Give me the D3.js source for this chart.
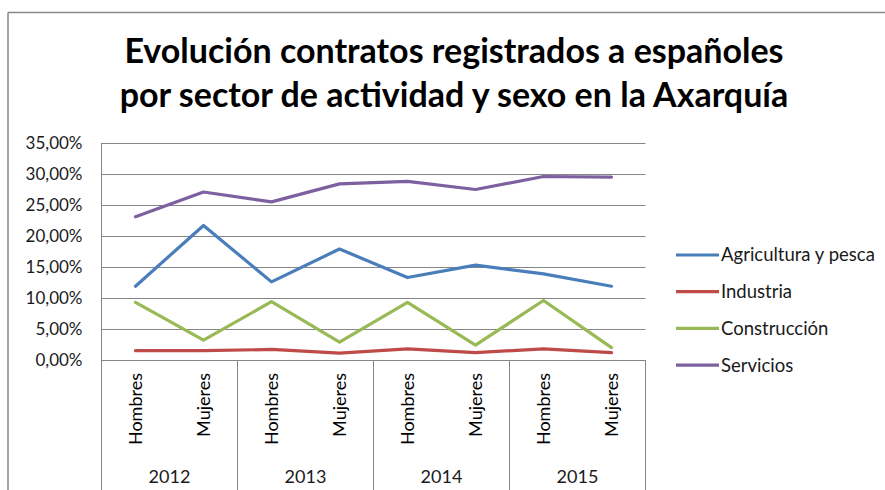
<!DOCTYPE html>
<html>
<head>
<meta charset="utf-8">
<script src="https://cdn.jsdelivr.net/npm/d3@7"></script>
<style>
  body { margin: 0; background: #fff; }
  svg { display: block; font-family: Lato, "Open Sans", sans-serif; }
</style>
</head>
<body>
<div class="chart"></div>
<script>
// data
let years = ["2012", "2013", "2014", "2015"];
let sexes = ["Hombres", "Mujeres"];
let seriesNames = ["Agricultura y pesca", "Industria", "Construcción", "Servicios"];
let agricultura = [0.119, 0.217, 0.126, 0.179, 0.133, 0.153, 0.139, 0.119];
let industria = [0.015, 0.015, 0.017, 0.011, 0.018, 0.012, 0.018, 0.012];
let construccion = [0.093, 0.032, 0.094, 0.029, 0.093, 0.024, 0.096, 0.020];
let servicios = [0.231, 0.271, 0.255, 0.284, 0.288, 0.275, 0.296, 0.295];
let yTicks = [0, 0.05, 0.10, 0.15, 0.20, 0.25, 0.30, 0.35];
let colors = ["#4A7EBB", "#BE4B48", "#98B954", "#7D60A0"];

let series = [agricultura, industria, construccion, servicios].map(function (v, i) {
    return { name: seriesNames[i], values: v };
});

// one category per (year, sex)
let categories = [];
years.forEach(function (y) {
    sexes.forEach(function (s) {
        categories.push({ key: y + "-" + s, year: y, sex: s });
    });
});

let W = 885, H = 490;
let plot = { left: 101.5, right: 645.5, top: 143, bottom: 360 };

let svg = d3.select(".chart")
    .append("svg")
    .attr("width", W)
    .attr("height", H)
    .style("background-color", "white");

// outer chart frame (only top & left visible in the crop)
svg.append("line")
    .attr("x1", 8).attr("x2", W).attr("y1", 12.5).attr("y2", 12.5)
    .style("stroke", "#868686").style("stroke-width", 1.5);
svg.append("line")
    .attr("x1", 8).attr("x2", 8).attr("y1", 12.5).attr("y2", H)
    .style("stroke", "#868686").style("stroke-width", 1.5);

// title
let title = svg.append("text")
    .attr("text-anchor", "middle")
    .style("font-weight", "bold")
    .style("font-size", "34px")
    .style("fill", "#000");
title.append("tspan").attr("x", 454).attr("y", 63).text("Evolución contratos registrados a españoles");
title.append("tspan").attr("x", 454).attr("y", 107).text("por sector de actividad y sexo en la Axarquía");

let x = d3.scaleBand()
    .domain(categories.map(function (d) { return d.key; }))
    .range([plot.left, plot.right]);

let yearScale = d3.scaleBand()
    .domain(years)
    .range([plot.left, plot.right]);

let y = d3.scaleLinear()
    .domain([0, 0.35])
    .range([plot.bottom, plot.top]);

// gridlines + y labels
let yAxis = svg.append("g")
    .attr("transform", "translate(" + plot.left + ",0)")
    .call(d3.axisLeft(y)
        .tickValues(yTicks)
        .tickSize(-(plot.right - plot.left))
        .tickPadding(19)
        .tickFormat(function (d) { return d3.format(".2f")(d * 100).replace(".", ",") + "%"; }));
yAxis.select(".domain").remove();
yAxis.selectAll(".tick line").style("stroke", "#868686").style("stroke-width", 1);
yAxis.selectAll(".tick text")
    .style("font-size", "17px")
    .style("font-family", "Lato")
    .style("fill", "#1a1a1a");

// left axis line runs down through the category area
svg.append("line")
    .attr("x1", plot.left).attr("x2", plot.left)
    .attr("y1", plot.top).attr("y2", H)
    .style("stroke", "#868686").style("stroke-width", 1);

// year separators below the plot
svg.append("g")
    .selectAll("line")
    .data(years)
    .enter()
    .append("line")
    .attr("x1", function (d) { return yearScale(d) + yearScale.bandwidth(); })
    .attr("x2", function (d) { return yearScale(d) + yearScale.bandwidth(); })
    .attr("y1", plot.bottom)
    .attr("y2", H)
    .style("stroke", "#868686").style("stroke-width", 1);

// sex labels (rotated)
svg.append("g")
    .selectAll("text")
    .data(categories)
    .enter()
    .append("text")
    .attr("transform", function (d) {
        return "translate(" + (x(d.key) + x.bandwidth() / 2 + 6) + "," + 373 + ") rotate(-90)";
    })
    .attr("text-anchor", "end")
    .style("font-size", "18px")
    .style("fill", "#000")
    .text(function (d) { return d.sex; });

// year labels
svg.append("g")
    .selectAll("text")
    .data(years)
    .enter()
    .append("text")
    .attr("x", function (d) { return yearScale(d) + yearScale.bandwidth() / 2; })
    .attr("y", 483)
    .attr("text-anchor", "middle")
    .style("font-size", "18px")
    .style("fill", "#1a1a1a")
    .text(function (d) { return d; });

// lines
let line = d3.line()
    .x(function (d, i) { return x(categories[i].key) + x.bandwidth() / 2; })
    .y(function (d) { return y(d); });

svg.append("g")
    .selectAll("path")
    .data(series)
    .enter()
    .append("path")
    .attr("d", function (d) { return line(d.values); })
    .style("fill", "none")
    .style("stroke", function (d, i) { return colors[i]; })
    .style("stroke-width", 3.2)
    .style("stroke-linejoin", "round")
    .style("stroke-linecap", "round");

// legend
let legend = svg.append("g")
    .selectAll("g")
    .data(series)
    .enter()
    .append("g")
    .attr("transform", function (d, i) { return "translate(676," + (255 + i * 36.7) + ")"; });

legend.append("line")
    .attr("x1", 0).attr("x2", 43)
    .style("stroke", function (d, i) { return colors[i]; })
    .style("stroke-width", 3.2);

legend.append("text")
    .attr("x", 45)
    .attr("dy", "0.35em")
    .style("font-size", "18.5px")
    .style("fill", "#1a1a1a")
    .text(function (d) { return d.name; });
</script>
</body>
</html>
